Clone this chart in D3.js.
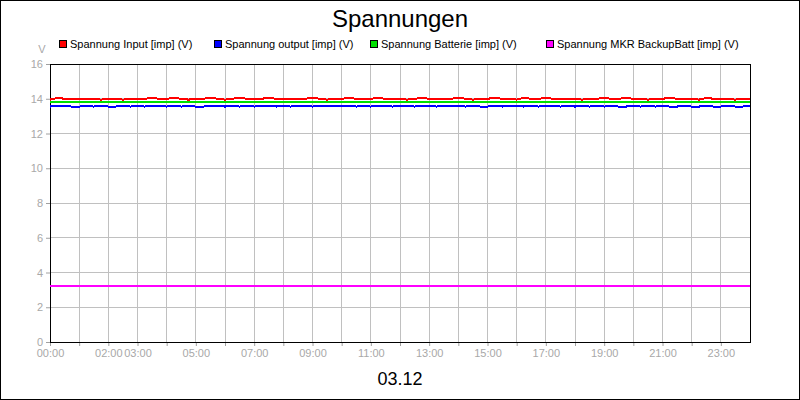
<!DOCTYPE html>
<html><head><meta charset="utf-8">
<script src="https://cdn.jsdelivr.net/npm/d3@7"></script>
<style>body{margin:0;background:#fff}svg{display:block;font-family:"Liberation Sans",Arial,sans-serif}</style>
</head><body><svg width="800" height="400"></svg>
<script>
const svg = d3.select("svg");
const width = 800, height = 400;
const margin = {top: 64, right: 50, bottom: 58, left: 50};

// hours, one sample every 15 minutes
const seriesNames = ["Spannung Input [imp] (V)", "Spannung output [imp] (V)", "Spannung Batterie [imp] (V)", "Spannung MKR BackupBatt [imp] (V)"];
const seriesColors = ["#ff0000", "#0000ff", "#00e000", "#ff00ff"];
const tickHours = [0, 2, 3, 5, 7, 9, 11, 13, 15, 17, 19, 21, 23];
const input = [13.95,14.05,14.0,14.0,14.0,14.0,14.0,13.95,14.0,14.0,13.95,14.0,14.0,14.0,14.05,14.0,14.0,14.05,14.0,13.95,14.0,14.0,14.05,14.0,13.95,14.0,14.05,14.0,14.0,14.0,14.05,14.0,14.0,14.0,14.0,14.0,14.05,14.0,13.95,14.0,14.0,14.05,14.0,14.0,14.0,14.05,14.0,14.0,14.0,13.95,14.0,14.05,14.0,14.0,14.0,14.0,14.05,14.0,13.95,14.0,14.0,14.05,14.0,14.0,13.95,14.05,14.0,14.0,14.05,14.0,14.0,14.0,14.0,13.95,14.0,14.0,14.05,14.0,14.0,14.05,14.0,14.0,13.95,14.0,14.0,14.05,14.0,14.0,14.0,13.95,14.05,14.0,14.0,14.0,13.95,14.0,14.0];
const output = [13.55,13.6,13.6,13.55,13.55,13.6,13.55,13.6,13.55,13.55,13.6,13.55,13.6,13.55,13.6,13.6,13.55,13.6,13.55,13.6,13.55,13.55,13.6,13.6,13.55,13.6,13.55,13.6,13.55,13.6,13.6,13.55,13.6,13.55,13.6,13.6,13.55,13.6,13.6,13.6,13.6,13.6,13.55,13.6,13.55,13.6,13.6,13.55,13.6,13.6,13.55,13.6,13.6,13.55,13.6,13.6,13.6,13.55,13.6,13.55,13.55,13.6,13.55,13.6,13.6,13.55,13.6,13.55,13.6,13.6,13.55,13.6,13.55,13.6,13.55,13.6,13.55,13.6,13.55,13.55,13.6,13.55,13.6,13.55,13.6,13.55,13.55,13.6,13.55,13.55,13.6,13.55,13.55,13.6,13.55,13.55,13.6];
const batterie = input.map(() => 13.82);
const backup = input.map(() => 3.2);
const allSeries = [input, output, batterie, backup];

const x = d3.scaleLinear().domain([0, 24]).range([margin.left, width - margin.right]);
const y = d3.scaleLinear().domain([0, 16]).range([height - margin.bottom, margin.top]);

svg.append("rect").attr("x", 0.5).attr("y", 0.5).attr("width", width - 1).attr("height", height - 1)
    .attr("fill", "#fff").attr("stroke", "#000");

// grid
svg.append("g").selectAll("line").data(d3.range(1, 24)).join("line")
    .attr("x1", d => x(d)).attr("x2", d => x(d)).attr("y1", y(16)).attr("y2", y(0))
    .attr("stroke", "#c0c0c0").attr("shape-rendering", "crispEdges");
svg.append("g").selectAll("line").data(d3.range(2, 17, 2)).join("line")
    .attr("x1", x(0)).attr("x2", x(24)).attr("y1", d => y(d)).attr("y2", d => y(d))
    .attr("stroke", "#c0c0c0").attr("shape-rendering", "crispEdges");

const fmt = h => String(h).padStart(2, "0") + ":00";
const xAxis = svg.append("g").attr("transform", `translate(0,${y(0)})`)
    .call(d3.axisBottom(x).tickValues(d3.range(0, 24)).tickSize(4).tickFormat(d => tickHours.includes(d) ? fmt(d) : ""));
const yAxis = svg.append("g").attr("transform", `translate(${x(0)},0)`)
    .call(d3.axisLeft(y).tickValues(d3.range(0, 17, 2)).tickSize(4));
[xAxis, yAxis].forEach(a => {
    a.select(".domain").remove();
    a.selectAll("line").attr("stroke", "#a0a0a0");
    a.selectAll("text").attr("fill", "#a8a8a8").style("font-size", "11px").style("font-family", "Liberation Sans, Arial");
});

// plot frame
svg.append("rect").attr("x", x(0)).attr("y", y(16)).attr("width", x(24) - x(0)).attr("height", y(0) - y(16))
    .attr("fill", "none").attr("stroke", "#000").attr("shape-rendering", "crispEdges");

const line = d3.line().x((d, i) => x(i / 4)).y(d => y(d));
[3, 2, 1, 0].forEach(k => {
    svg.append("path").datum(allSeries[k]).attr("d", line)
        .attr("fill", "none").attr("stroke", seriesColors[k]).attr("stroke-width", 2)
        .attr("shape-rendering", "crispEdges");
});

svg.append("text").attr("x", width / 2).attr("y", 27).attr("text-anchor", "middle")
    .style("font-size", "24px").text("Spannungen");
svg.append("text").attr("x", width / 2).attr("y", 385).attr("text-anchor", "middle")
    .style("font-size", "18px").text("03.12");
svg.append("text").attr("x", 42).attr("y", 53).attr("text-anchor", "middle")
    .attr("fill", "#a8a8a8").style("font-size", "11px").text("V");

const legX = [59, 214, 370, 546];
const leg = svg.append("g").selectAll("g").data(seriesNames).join("g")
    .attr("transform", (d, i) => `translate(${legX[i]},40)`);
leg.append("rect").attr("width", 7).attr("height", 7).attr("y", 0.5).attr("x", 0.5)
    .attr("fill", (d, i) => seriesColors[i]).attr("stroke", "#000");
leg.append("text").attr("x", 11).attr("y", 8).style("font-size", "11px").text(d => d);
</script></body></html>
